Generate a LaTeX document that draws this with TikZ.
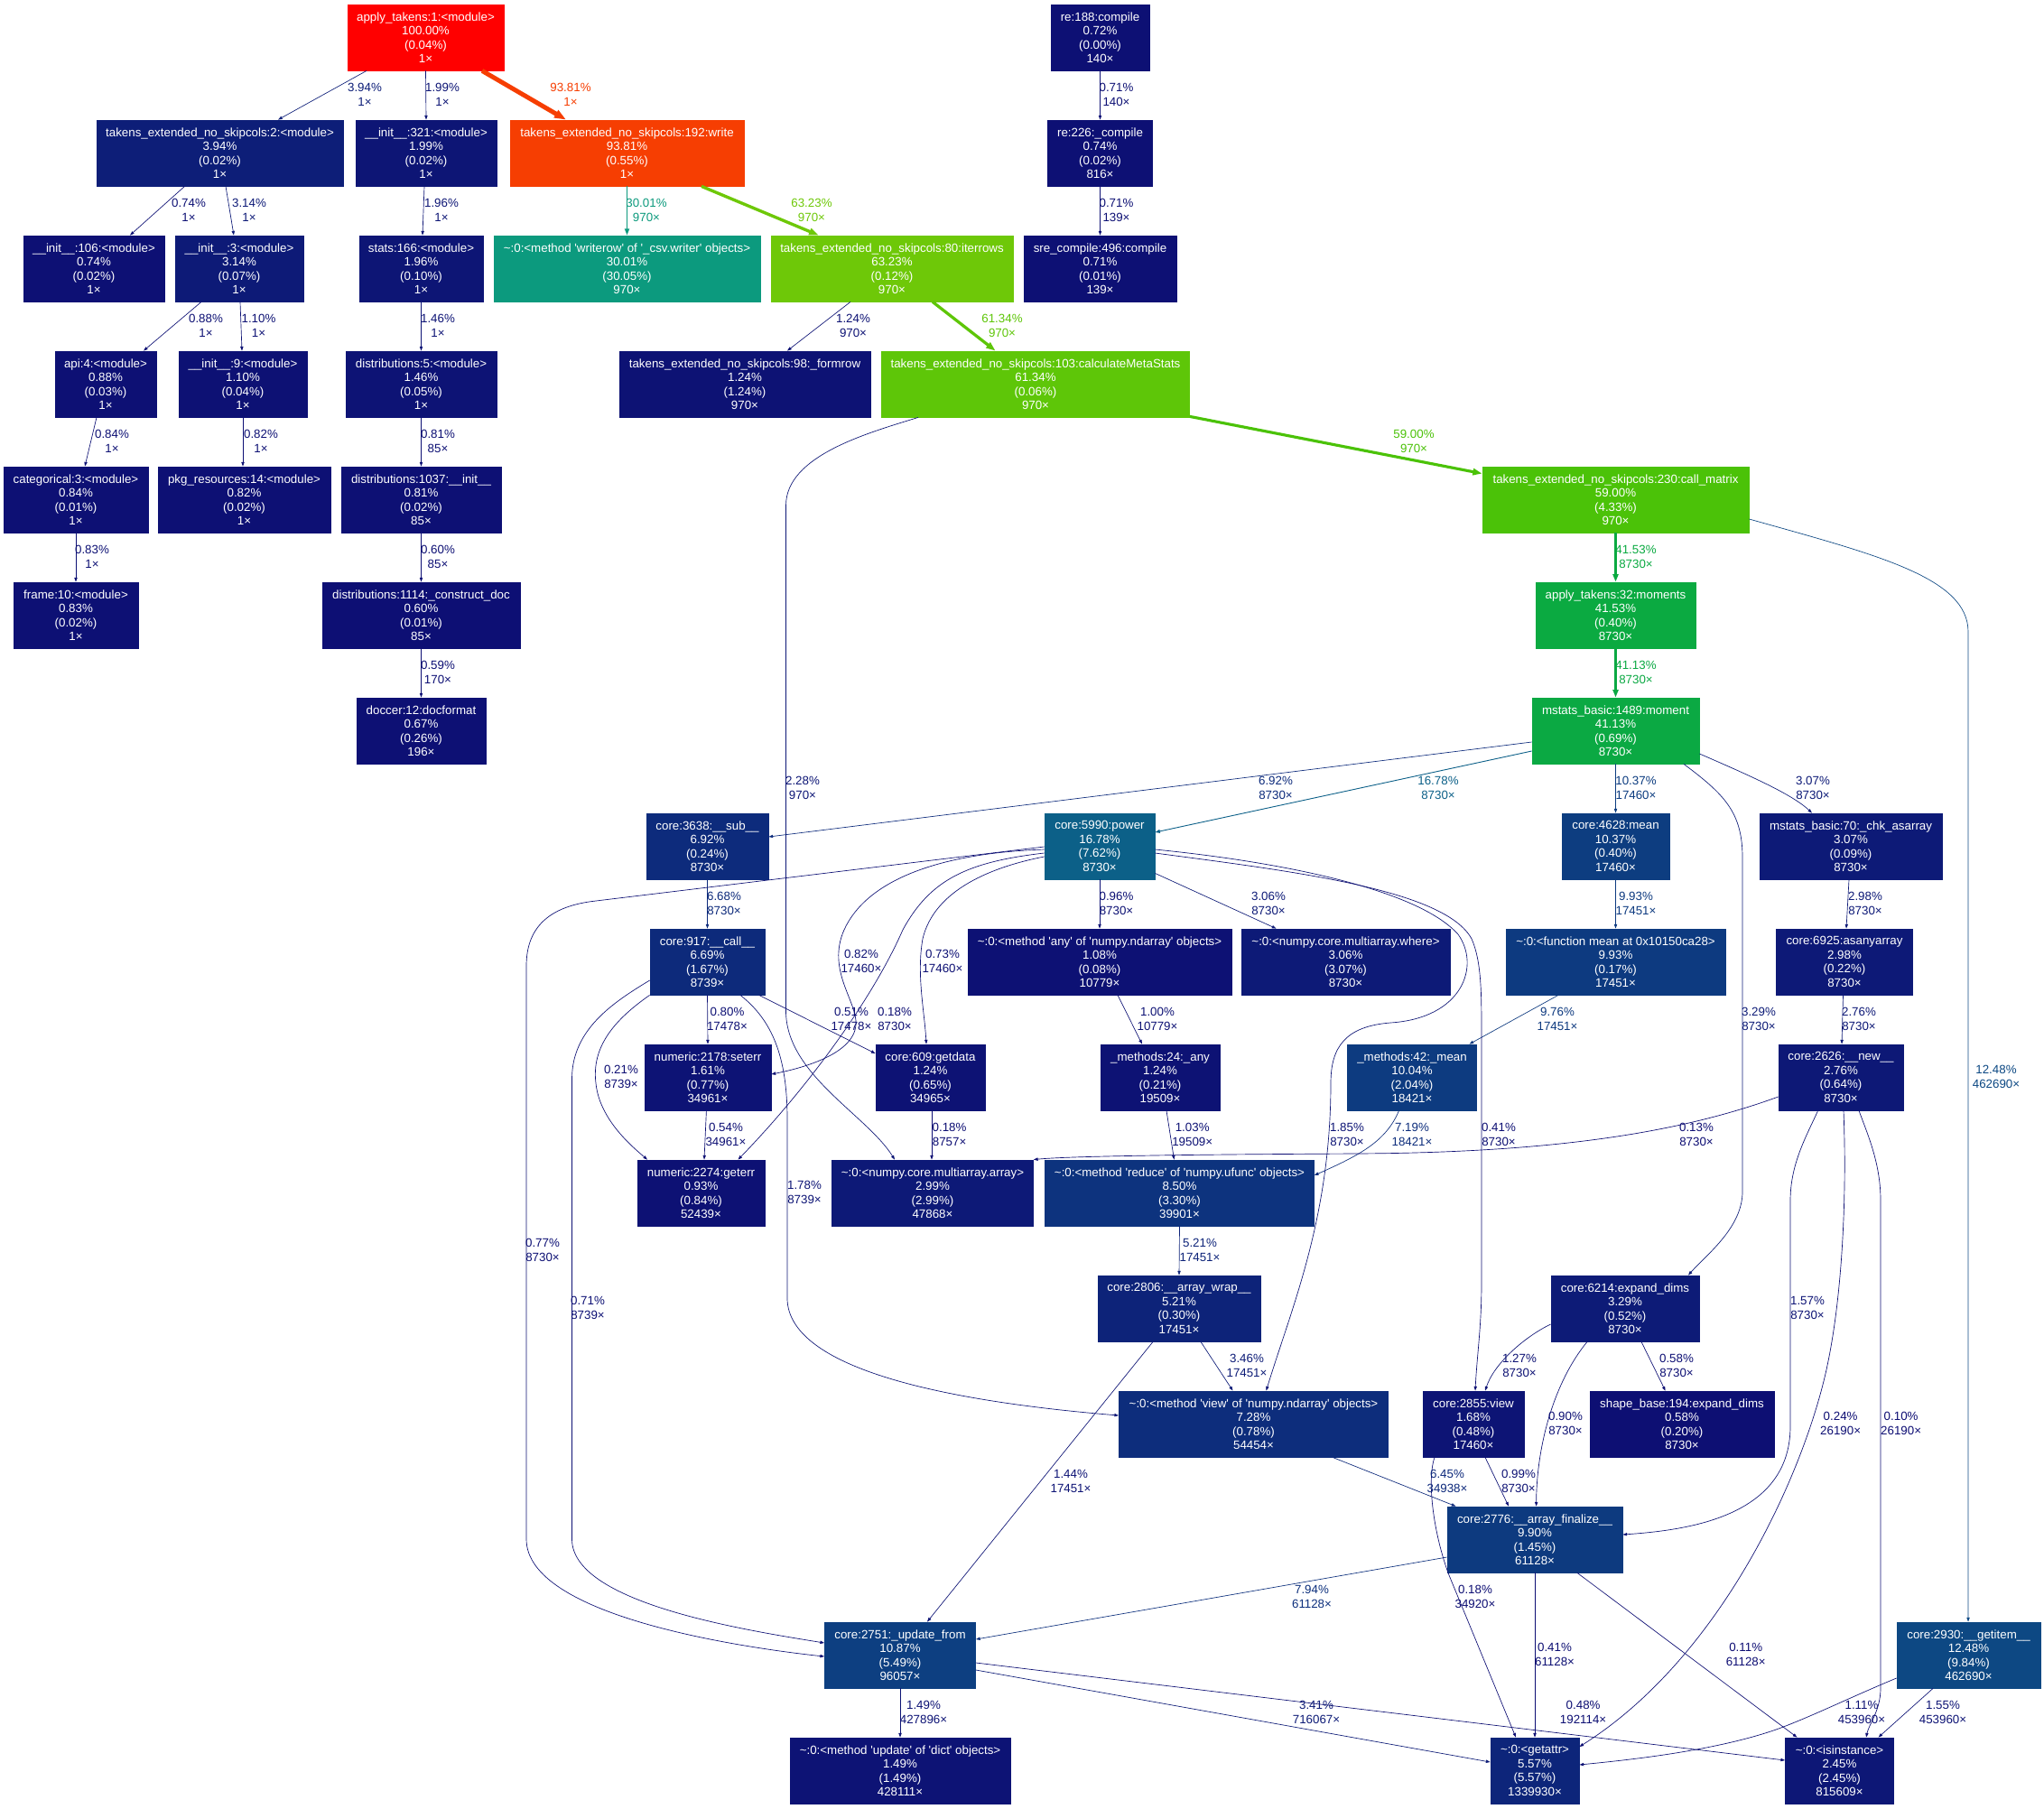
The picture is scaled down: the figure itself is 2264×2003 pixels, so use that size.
\documentclass[tikz,border=0pt]{standalone}
\usepackage{fontspec}
\setmainfont{Liberation Sans}[Ligatures=TeXOff]
\usetikzlibrary{arrows.meta}
\newcommand\gpf{\fontsize{13.33pt}{15.5pt}\selectfont}
\newcommand\gphue[1]{%
  \pgfmathsetmacro\gpx{#1}%
  \pgfmathsetmacro\gpx{\gpx>1 ? \gpx-1 : \gpx}%
  \pgfmathsetmacro\gpres{min(1,max(0,\gpx<1/6 ? \gpma+(\gpmb-\gpma)*6*\gpx : (\gpx<0.5 ? \gpmb : (\gpx<2/3 ? \gpma+(\gpmb-\gpma)*(2/3-\gpx)*6 : \gpma))))}%
}
\newcommand\gpcolor[1]{%
  \pgfmathsetmacro\gpw{#1/100}%
  \pgfmathsetmacro\gph{(2/3)*(1-\gpw)}%
  \pgfmathsetmacro\gps{0.8+0.2*\gpw}%
  \pgfmathsetmacro\gpl{0.25+0.25*\gpw}%
  \pgfmathsetmacro\gpmb{\gpl*(1+\gps)}%
  \pgfmathsetmacro\gpma{2*\gpl-\gpmb}%
  \gphue{\gph+1/3}\let\gpr\gpres
  \gphue{\gph}\let\gpg\gpres
  \gphue{\gph+2/3}\let\gpb\gpres
  \definecolor{gptmp}{rgb}{\gpr,\gpg,\gpb}%
}
\tikzset{
  gbox/.style={rectangle, minimum height=73pt, inner xsep=2pt, inner ysep=2pt, align=center, font=\gpf, text=white, line width=0.8pt},
  gpnode/.code={\gpcolor{#1}\pgfkeysalso{fill=gptmp,draw=gptmp}},
  gplab/.code={\gpcolor{#1}\pgfkeysalso{text=gptmp,align=center,font=\gpf,inner sep=0pt}},
  gpedge/.code={%
    \gpcolor{#1}%
    \pgfmathsetmacro\gplw{max(5.333*#1/100,0.667)}%
    \pgfmathsetmacro\gpal{6.667*sqrt(max(4*#1/100,0.5))}%
    \pgfmathsetmacro\gpaw{0.7*\gpal}%
    \edef\gptmpkeys{draw=gptmp,line width=\gplw pt,-{Triangle[length=\gpal pt,width=\gpaw pt]}}%
    \expandafter\pgfkeysalso\expandafter{\gptmpkeys}%
  }
}
\begin{document}
\begin{tikzpicture}[x=1pt,y=-1pt]
\fill[white] (0,0) rectangle (2264,2003);
\useasboundingbox (0,0) rectangle (2264,2003);
% ---------- nodes ----------
\node[gbox,gpnode=100,minimum width=173pt] (apply1) at (471.5,41.5) {apply\_takens:1:<module>\\100.00\%\\(0.04\%)\\1×};
\node[gbox,gpnode=3.94,minimum width=273pt] (tec2) at (243.5,169.5) {takens\_extended\_no\_skipcols:2:<module>\\3.94\%\\(0.02\%)\\1×};
\node[gbox,gpnode=1.99,minimum width=156pt] (init321) at (472,169.5) {\_\_init\_\_:321:<module>\\1.99\%\\(0.02\%)\\1×};
\node[gbox,gpnode=93.81,minimum width=259pt] (write) at (694.5,169.5) {takens\_extended\_no\_skipcols:192:write\\93.81\%\\(0.55\%)\\1×};
\node[gbox,gpnode=0.72,minimum width=109pt] (re188) at (1218.5,41.5) {re:188:compile\\0.72\%\\(0.00\%)\\140×};
\node[gbox,gpnode=0.74,minimum width=116pt] (re226) at (1218.5,169.5) {re:226:\_compile\\0.74\%\\(0.02\%)\\816×};
\node[gbox,gpnode=0.71,minimum width=169pt] (sre) at (1218.5,297.5) {sre\_compile:496:compile\\0.71\%\\(0.01\%)\\139×};
\node[gbox,gpnode=0.74,minimum width=156pt] (init106) at (104,297.5) {\_\_init\_\_:106:<module>\\0.74\%\\(0.02\%)\\1×};
\node[gbox,gpnode=3.14,minimum width=142pt] (init3) at (265,297.5) {\_\_init\_\_:3:<module>\\3.14\%\\(0.07\%)\\1×};
\node[gbox,gpnode=1.96,minimum width=137pt] (stats166) at (466.5,297.5) {stats:166:<module>\\1.96\%\\(0.10\%)\\1×};
\node[gbox,gpnode=30.01,minimum width=295pt] (writerow) at (694.5,297.5) {\textasciitilde:0:<method 'writerow' of '\_csv.writer' objects>\\30.01\%\\(30.05\%)\\970×};
\node[gbox,gpnode=63.23,minimum width=268pt] (iterrows) at (988,297.5) {takens\_extended\_no\_skipcols:80:iterrows\\63.23\%\\(0.12\%)\\970×};
\node[gbox,gpnode=0.88,minimum width=112pt] (api4) at (117,425.5) {api:4:<module>\\0.88\%\\(0.03\%)\\1×};
\node[gbox,gpnode=1.10,minimum width=142pt] (init9) at (269,425.5) {\_\_init\_\_:9:<module>\\1.10\%\\(0.04\%)\\1×};
\node[gbox,gpnode=1.46,minimum width=167pt] (dist5) at (466.5,425.5) {distributions:5:<module>\\1.46\%\\(0.05\%)\\1×};
\node[gbox,gpnode=1.24,minimum width=278pt] (formrow) at (825,425.5) {takens\_extended\_no\_skipcols:98:\_formrow\\1.24\%\\(1.24\%)\\970×};
\node[gbox,gpnode=61.34,minimum width=341pt] (calcmeta) at (1147,425.5) {takens\_extended\_no\_skipcols:103:calculateMetaStats\\61.34\%\\(0.06\%)\\970×};
\node[gbox,gpnode=0.84,minimum width=160pt] (categorical) at (84,553.5) {categorical:3:<module>\\0.84\%\\(0.01\%)\\1×};
\node[gbox,gpnode=0.82,minimum width=191pt] (pkg) at (270.5,553.5) {pkg\_resources:14:<module>\\0.82\%\\(0.02\%)\\1×};
\node[gbox,gpnode=0.81,minimum width=177pt] (dist1037) at (466.5,553.5) {distributions:1037:\_\_init\_\_\\0.81\%\\(0.02\%)\\85×};
\node[gbox,gpnode=59.00,minimum width=295pt] (callmatrix) at (1789.5,553.5) {takens\_extended\_no\_skipcols:230:call\_matrix\\59.00\%\\(4.33\%)\\970×};
\node[gbox,gpnode=0.83,minimum width=138pt] (frame) at (84,681.5) {frame:10:<module>\\0.83\%\\(0.02\%)\\1×};
\node[gbox,gpnode=0.60,minimum width=219pt] (dist1114) at (466.5,681.5) {distributions:1114:\_construct\_doc\\0.60\%\\(0.01\%)\\85×};
\node[gbox,gpnode=41.53,minimum width=177pt] (moments) at (1789.5,681.5) {apply\_takens:32:moments\\41.53\%\\(0.40\%)\\8730×};
\node[gbox,gpnode=0.67,minimum width=143pt] (doccer) at (466.5,809.5) {doccer:12:docformat\\0.67\%\\(0.26\%)\\196×};
\node[gbox,gpnode=41.13,minimum width=185pt] (moment) at (1789.5,809.5) {mstats\_basic:1489:moment\\41.13\%\\(0.69\%)\\8730×};
\node[gbox,gpnode=6.92,minimum width=135pt] (sub) at (783.5,937.5) {core:3638:\_\_sub\_\_\\6.92\%\\(0.24\%)\\8730×};
\node[gbox,gpnode=16.78,minimum width=122pt] (power) at (1218,937.5) {core:5990:power\\16.78\%\\(7.62\%)\\8730×};
\node[gbox,gpnode=10.37,minimum width=119pt] (mean) at (1789.5,937.5) {core:4628:mean\\10.37\%\\(0.40\%)\\17460×};
\node[gbox,gpnode=3.07,minimum width=202pt] (chk) at (2050,937.5) {mstats\_basic:70:\_chk\_asarray\\3.07\%\\(0.09\%)\\8730×};
\node[gbox,gpnode=6.69,minimum width=127pt] (call) at (783.5,1065.5) {core:917:\_\_call\_\_\\6.69\%\\(1.67\%)\\8739×};
\node[gbox,gpnode=1.08,minimum width=292pt] (any) at (1218,1065.5) {\textasciitilde:0:<method 'any' of 'numpy.ndarray' objects>\\1.08\%\\(0.08\%)\\10779×};
\node[gbox,gpnode=3.06,minimum width=231pt] (where) at (1490.5,1065.5) {\textasciitilde:0:<numpy.core.multiarray.where>\\3.06\%\\(3.07\%)\\8730×};
\node[gbox,gpnode=9.93,minimum width=243pt] (funcmean) at (1789.5,1065.5) {\textasciitilde:0:<function mean at 0x10150ca28>\\9.93\%\\(0.17\%)\\17451×};
\node[gbox,gpnode=2.98,minimum width=151pt] (asany) at (2043,1065.5) {core:6925:asanyarray\\2.98\%\\(0.22\%)\\8730×};
\node[gbox,gpnode=1.61,minimum width=140pt] (seterr) at (784,1193.5) {numeric:2178:seterr\\1.61\%\\(0.77\%)\\34961×};
\node[gbox,gpnode=1.24,minimum width=121pt] (getdata) at (1030.5,1193.5) {core:609:getdata\\1.24\%\\(0.65\%)\\34965×};
\node[gbox,gpnode=1.24,minimum width=132pt] (anyy) at (1285,1193.5) {\_methods:24:\_any\\1.24\%\\(0.21\%)\\19509×};
\node[gbox,gpnode=10.04,minimum width=143pt] (mean42) at (1564,1193.5) {\_methods:42:\_mean\\10.04\%\\(2.04\%)\\18421×};
\node[gbox,gpnode=2.76,minimum width=138pt] (new) at (2039,1193.5) {core:2626:\_\_new\_\_\\2.76\%\\(0.64\%)\\8730×};
\node[gbox,gpnode=0.93,minimum width=141pt] (geterr) at (776.5,1321.5) {numeric:2274:geterr\\0.93\%\\(0.84\%)\\52439×};
\node[gbox,gpnode=2.99,minimum width=223pt] (array) at (1033,1321.5) {\textasciitilde:0:<numpy.core.multiarray.array>\\2.99\%\\(2.99\%)\\47868×};
\node[gbox,gpnode=8.50,minimum width=298pt] (reduce) at (1306.5,1321.5) {\textasciitilde:0:<method 'reduce' of 'numpy.ufunc' objects>\\8.50\%\\(3.30\%)\\39901×};
\node[gbox,gpnode=5.21,minimum width=180pt] (wrap) at (1306,1449.5) {core:2806:\_\_array\_wrap\_\_\\5.21\%\\(0.30\%)\\17451×};
\node[gbox,gpnode=3.29,minimum width=164pt] (expand) at (1800,1449.5) {core:6214:expand\_dims\\3.29\%\\(0.52\%)\\8730×};
\node[gbox,gpnode=7.28,minimum width=298pt] (viewnp) at (1388.5,1577.5) {\textasciitilde:0:<method 'view' of 'numpy.ndarray' objects>\\7.28\%\\(0.78\%)\\54454×};
\node[gbox,gpnode=1.68,minimum width=112pt] (view2855) at (1632,1577.5) {core:2855:view\\1.68\%\\(0.48\%)\\17460×};
\node[gbox,gpnode=0.58,minimum width=204pt] (shapebase) at (1863,1577.5) {shape\_base:194:expand\_dims\\0.58\%\\(0.20\%)\\8730×};
\node[gbox,gpnode=9.90,minimum width=194pt] (finalize) at (1700,1705.5) {core:2776:\_\_array\_finalize\_\_\\9.90\%\\(1.45\%)\\61128×};
\node[gbox,gpnode=10.87,minimum width=167pt] (updatefrom) at (997,1833.5) {core:2751:\_update\_from\\10.87\%\\(5.49\%)\\96057×};
\node[gbox,gpnode=12.48,minimum width=159pt] (getitem) at (2180.5,1833.5) {core:2930:\_\_getitem\_\_\\12.48\%\\(9.84\%)\\462690×};
\node[gbox,gpnode=1.49,minimum width=244pt] (updatedict) at (997,1961.5) {\textasciitilde:0:<method 'update' of 'dict' objects>\\1.49\%\\(1.49\%)\\428111×};
\node[gbox,gpnode=5.57,minimum width=98pt] (getattr) at (1700,1961.5) {\textasciitilde:0:<getattr>\\5.57\%\\(5.57\%)\\1339930×};
\node[gbox,gpnode=2.45,minimum width=120pt] (isinstance) at (2037.5,1961.5) {\textasciitilde:0:<isinstance>\\2.45\%\\(2.45\%)\\815609×};
% ---------- edges ----------
\draw[gpedge=3.94] ([xshift=-65.5pt]apply1.south) -- ([xshift=64.5pt]tec2.north);
\draw[gpedge=1.99] (apply1.south) -- (init321.north);
\draw[gpedge=93.81] ([xshift=62.5pt]apply1.south) -- ([xshift=-67.5pt]write.north);
\draw[gpedge=0.74] ([xshift=-39pt]tec2.south) -- ([xshift=40pt]init106.north);
\draw[gpedge=3.14] ([xshift=6.5pt]tec2.south) -- ([xshift=-6pt]init3.north);
\draw[gpedge=1.96] ([xshift=-2pt]init321.south) -- ([xshift=1.5pt]stats166.north);
\draw[gpedge=30.01] (write.south) -- (writerow.north);
\draw[gpedge=63.23] ([xshift=82.5pt]write.south) -- ([xshift=-81.3pt]iterrows.north);
\draw[gpedge=0.88] ([xshift=-42pt]init3.south) -- ([xshift=42pt]api4.north);
\draw[gpedge=1.10] ([xshift=1pt]init3.south) -- ([xshift=-1pt]init9.north);
\draw[gpedge=1.46] (stats166.south) -- (dist5.north);
\draw[gpedge=1.24] ([xshift=-46pt]iterrows.south) -- ([xshift=47pt]formrow.north);
\draw[gpedge=61.34] ([xshift=45pt]iterrows.south) -- ([xshift=-44.4pt]calcmeta.north);
\draw[gpedge=0.71] (re188.south) -- (re226.north);
\draw[gpedge=0.71] (re226.south) -- (sre.north);
\draw[gpedge=0.84] ([xshift=-10pt]api4.south) -- ([xshift=10pt]categorical.north);
\draw[gpedge=0.82] (init9.south) -- ([xshift=-1.5pt]pkg.north);
\draw[gpedge=0.81] (dist5.south) -- (dist1037.north);
\draw[gpedge=0.83] (categorical.south) -- (frame.north);
\draw[gpedge=0.60] (dist1037.south) -- (dist1114.north);
\draw[gpedge=0.59] (dist1114.south) -- (doccer.north);
\draw[gpedge=59.00] ([yshift=1pt]calcmeta.south east) -- ([yshift=-8pt]callmatrix.north west);
\draw[gpedge=2.28] ([xshift=-130pt]calcmeta.south) .. controls (960,480) and (870.5,505) .. (870.5,560) -- (870.5,1120) .. controls (870.5,1190) and (960,1235) .. ([xshift=-42pt]array.north);
\draw[gpedge=41.53] (callmatrix.south) -- (moments.north);
\draw[gpedge=41.13] (moments.south) -- (moment.north);
\draw[gpedge=12.48] ([yshift=-21.5pt]callmatrix.east) .. controls (2080,615) and (2180,640) .. (2180,700) -- ([xshift=-0.5pt]getitem.north);
\draw[gpedge=6.92] ([yshift=-12.5pt]moment.west) -- ([yshift=10.5pt]sub.east);
\draw[gpedge=16.78] ([yshift=-22.5pt]moment.west) -- ([yshift=15.5pt]power.east);
\draw[gpedge=10.37] (moment.south) -- (mean.north);
\draw[gpedge=3.29] ([xshift=75.5pt]moment.south) .. controls (1910,880) and (1930,900) .. (1930,950) -- (1930,1320) .. controls (1930,1360) and (1890,1390) .. ([xshift=70pt]expand.north);
\draw[gpedge=3.07] ([yshift=-25.5pt]moment.east) .. controls (1940,860) and (1985,880) .. ([xshift=-43pt]chk.north);
\draw[gpedge=2.98] ([xshift=-2pt]chk.south) -- ([xshift=2pt]asany.north);
\draw[gpedge=9.93] (mean.south) -- (funcmean.north);
\draw[gpedge=2.76] ([xshift=-1.5pt]asany.south) -- ([xshift=1pt]new.north);
\draw[gpedge=9.76] ([xshift=-63.5pt]funcmean.south) -- ([xshift=63.5pt]mean42.north);
\draw[gpedge=6.68] (sub.south) -- (call.north);
\draw[gpedge=0.96] (power.south) -- (any.north);
\draw[gpedge=3.06] ([yshift=7pt]power.south east) -- ([xshift=-77pt]where.north);
\draw[gpedge=0.82] ([yshift=-3.5pt]power.west) .. controls (1040,945) and (960,975) .. (935,1030) .. controls (915,1075) and (950,1110) .. (948,1135) .. controls (946,1170) and (880,1185) .. ([yshift=3.5pt]seterr.east);
\draw[gpedge=0.18] ([yshift=-7.5pt]power.west) .. controls (1070,955) and (1030,975) .. (1000,1030) .. controls (965,1110) and (890,1210) .. ([xshift=41pt]geterr.north);
\draw[gpedge=0.73] ([yshift=-11.5pt]power.west) .. controls (1100,960) and (1035,985) .. (1022,1040) .. controls (1015,1080) and (1024,1120) .. ([xshift=-4.5pt]getdata.north);
\draw[gpedge=0.77] ([yshift=-0.5pt]power.west) -- (660,998) .. controls (605,1004) and (583,1030) .. (583,1070) -- (583,1705) .. controls (583,1790) and (820,1825) .. ([yshift=-1.5pt]updatefrom.west);
\draw[gpedge=0.71] ([yshift=-20.5pt]call.west) .. controls (680,1110) and (633.5,1140) .. (633.5,1195) -- (633.5,1705) .. controls (633.5,1775) and (820,1805) .. ([yshift=13.5pt]updatefrom.west);
\draw[gpedge=0.21] (call.south west) .. controls (680,1130) and (655,1160) .. (660,1200) .. controls (664,1240) and (700,1270) .. ([xshift=-59.5pt]geterr.north);
\draw[gpedge=0.51] ([xshift=57.2pt]call.south) -- ([yshift=26.5pt]getdata.west);
\draw[gpedge=0.80] (call.south) -- (seterr.north);
\draw[gpedge=1.78] ([xshift=36.5pt]call.south) .. controls (855,1130) and (872,1170) .. (872,1240) -- (872,1440) .. controls (875,1510) and (1020,1550) .. ([yshift=9.5pt]viewnp.west);
\draw[gpedge=0.54] ([xshift=-1.6pt]seterr.south) -- ([xshift=3.5pt]geterr.north);
\draw[gpedge=0.18] ([xshift=1.5pt]getdata.south) -- ([xshift=-1pt]array.north);
\draw[gpedge=1.00] ([xshift=20pt]any.south) -- ([xshift=-20pt]anyy.north);
\draw[gpedge=1.03] ([xshift=7pt]anyy.south) -- ([xshift=-6pt]reduce.north);
\draw[gpedge=7.19] ([xshift=-14.5pt]mean42.south) .. controls (1535,1265) and (1505,1280) .. ([yshift=19.5pt]reduce.east);
\draw[gpedge=0.13] ([yshift=-21.5pt]new.west) .. controls (1860,1255) and (1720,1277) .. (1500,1278) .. controls (1300,1279) and (1180,1281) .. (array.north east);
\draw[gpedge=1.85] ([yshift=-3.5pt]power.east) .. controls (1420,955) and (1570,985) .. (1615,1035) .. controls (1640,1070) and (1620,1128) .. (1540,1133) .. controls (1490,1137) and (1474,1160) .. (1474,1200) .. controls (1474,1350) and (1430,1450) .. ([xshift=14pt]viewnp.north);
\draw[gpedge=0.41] ([yshift=-7.5pt]power.east) .. controls (1430,965) and (1600,985) .. (1630,1040) .. controls (1641,1065) and (1641,1100) .. (1641,1150) -- (1641,1420) .. controls (1641,1470) and (1636,1500) .. ([xshift=2pt]view2855.north);
\draw[gpedge=5.21] (reduce.south) -- (wrap.north);
\draw[gpedge=3.46] ([xshift=24pt]wrap.south) -- ([xshift=-23pt]viewnp.north);
\draw[gpedge=1.44] ([xshift=-29pt]wrap.south) -- ([xshift=30pt]updatefrom.north);
\draw[gpedge=6.45] ([xshift=87.5pt]viewnp.south) -- ([xshift=-87.5pt]finalize.north);
\draw[gpedge=0.18] ([xshift=-43pt]view2855.south) .. controls (1580,1640) and (1588,1700) .. (1605,1745) -- ([xshift=-21pt]getattr.north);
\draw[gpedge=1.27] ([yshift=-17.5pt]expand.west) .. controls (1690,1480) and (1655,1510) .. ([xshift=13pt]view2855.north);
\draw[gpedge=0.58] ([xshift=18pt]expand.south) -- ([xshift=-18.4pt]shapebase.north);
\draw[gpedge=0.90] ([xshift=-42pt]expand.south) .. controls (1722,1530) and (1702,1600) .. ([xshift=1.6pt]finalize.north);
\draw[gpedge=0.99] ([xshift=13pt]view2855.south) -- ([xshift=-29pt]finalize.north);
\draw[gpedge=7.94] ([yshift=-19.5pt]finalize.west) -- ([yshift=17.5pt]updatefrom.east);
\draw[gpedge=0.41] (finalize.south) -- (getattr.north);
\draw[gpedge=0.11] ([xshift=47pt]finalize.south) -- ([xshift=-47pt]isinstance.north);
\draw[gpedge=1.57] ([xshift=-25.4pt]new.south) .. controls (2000,1260) and (1983,1290) .. (1983,1330) -- (1983,1580) .. controls (1983,1680) and (1870,1695) .. ([yshift=5.5pt]finalize.east);
\draw[gpedge=0.24] ([xshift=3pt]new.south) .. controls (2046,1330) and (2040,1450) .. (2020,1530) .. controls (1990,1650) and (1900,1840) .. ([yshift=26.5pt]getattr.east);
\draw[gpedge=0.10] ([xshift=20pt]new.south) .. controls (2070,1260) and (2083,1290) .. (2083,1330) -- (2083,1870) .. controls (2083,1895) and (2070,1910) .. ([xshift=29.5pt]isinstance.north);
\draw[gpedge=1.11] ([yshift=-25.5pt]getitem.west) .. controls (2050,1880) and (2010,1900) .. (1970,1915) .. controls (1900,1940) and (1800,1950) .. ([yshift=6.5pt]getattr.east);
\draw[gpedge=1.55] ([xshift=-39.5pt]getitem.south) -- ([xshift=43pt]isinstance.north);
\draw[gpedge=1.49] (updatefrom.south) -- (updatedict.north);
\draw[gpedge=3.41] ([yshift=-16.5pt]updatefrom.east) -- ([yshift=9.5pt]getattr.west);
\draw[gpedge=0.48] ([yshift=-8.5pt]updatefrom.east) -- ([yshift=11.5pt]isinstance.west);
% ---------- edge labels ----------
\node[gplab=3.94] (l1) at (404,105) {3.94\%\\1×};
\node[gplab=1.99] (l2) at (490,105) {1.99\%\\1×};
\node[gplab=93.81] (l3) at (632,105) {93.81\%\\1×};
\node[gplab=0.74] (l4) at (209,233) {0.74\%\\1×};
\node[gplab=3.14] (l5) at (276,233) {3.14\%\\1×};
\node[gplab=1.96] (l6) at (489,233) {1.96\%\\1×};
\node[gplab=30.01] (l7) at (716,233) {30.01\%\\970×};
\node[gplab=63.23] (l8) at (899,233) {63.23\%\\970×};
\node[gplab=0.88] (l9) at (228,361) {0.88\%\\1×};
\node[gplab=1.10] (l10) at (286.5,361) {1.10\%\\1×};
\node[gplab=1.46] (l11) at (485,361) {1.46\%\\1×};
\node[gplab=1.24] (l12) at (945,361) {1.24\%\\970×};
\node[gplab=61.34] (l13) at (1110,361) {61.34\%\\970×};
\node[gplab=0.71] (l14) at (1236.5,105) {0.71\%\\140×};
\node[gplab=0.71] (l15) at (1236.5,233) {0.71\%\\139×};
\node[gplab=0.84] (l16) at (124,489) {0.84\%\\1×};
\node[gplab=0.82] (l17) at (289,489) {0.82\%\\1×};
\node[gplab=0.81] (l18) at (485,489) {0.81\%\\85×};
\node[gplab=0.83] (l19) at (102,617) {0.83\%\\1×};
\node[gplab=0.60] (l20) at (485,617) {0.60\%\\85×};
\node[gplab=0.59] (l21) at (485,745) {0.59\%\\170×};
\node[gplab=59.00] (l22) at (1566,489) {59.00\%\\970×};
\node[gplab=2.28] (l23) at (889,873) {2.28\%\\970×};
\node[gplab=41.53] (l24) at (1812,617) {41.53\%\\8730×};
\node[gplab=41.13] (l25) at (1812,745) {41.13\%\\8730×};
\node[gplab=12.48] (l26) at (2211,1193) {12.48\%\\462690×};
\node[gplab=6.92] (l27) at (1413,873) {6.92\%\\8730×};
\node[gplab=16.78] (l28) at (1593,873) {16.78\%\\8730×};
\node[gplab=10.37] (l29) at (1812,873) {10.37\%\\17460×};
\node[gplab=3.29] (l30) at (1948,1129) {3.29\%\\8730×};
\node[gplab=3.07] (l31) at (2008,873) {3.07\%\\8730×};
\node[gplab=2.98] (l32) at (2066,1001) {2.98\%\\8730×};
\node[gplab=9.93] (l33) at (1812,1001) {9.93\%\\17451×};
\node[gplab=2.76] (l34) at (2059,1129) {2.76\%\\8730×};
\node[gplab=9.76] (l35) at (1725,1129) {9.76\%\\17451×};
\node[gplab=6.68] (l36) at (802,1001) {6.68\%\\8730×};
\node[gplab=0.96] (l37) at (1236.5,1001) {0.96\%\\8730×};
\node[gplab=3.06] (l38) at (1405,1001) {3.06\%\\8730×};
\node[gplab=0.82] (l39) at (954,1065) {0.82\%\\17460×};
\node[gplab=0.18] (l40) at (991,1129) {0.18\%\\8730×};
\node[gplab=0.73] (l41) at (1044,1065) {0.73\%\\17460×};
\node[gplab=0.77] (l42) at (601,1385) {0.77\%\\8730×};
\node[gplab=0.71] (l43) at (651,1449) {0.71\%\\8739×};
\node[gplab=0.21] (l44) at (688,1193) {0.21\%\\8739×};
\node[gplab=0.51] (l45) at (943,1129) {0.51\%\\17478×};
\node[gplab=0.80] (l46) at (805.5,1129) {0.80\%\\17478×};
\node[gplab=1.78] (l47) at (891,1321) {1.78\%\\8739×};
\node[gplab=0.54] (l49) at (804,1257) {0.54\%\\34961×};
\node[gplab=0.18] (l50) at (1051.6,1257) {0.18\%\\8757×};
\node[gplab=1.00] (l51) at (1282,1129) {1.00\%\\10779×};
\node[gplab=1.03] (l52) at (1320.7,1257) {1.03\%\\19509×};
\node[gplab=7.19] (l53) at (1564,1257) {7.19\%\\18421×};
\node[gplab=0.13] (l54) at (1879,1257) {0.13\%\\8730×};
\node[gplab=1.85] (l55) at (1492,1257) {1.85\%\\8730×};
\node[gplab=0.41] (l56) at (1660,1257) {0.41\%\\8730×};
\node[gplab=5.21] (l57) at (1329,1385) {5.21\%\\17451×};
\node[gplab=3.46] (l58) at (1381,1513) {3.46\%\\17451×};
\node[gplab=1.44] (l59) at (1186,1641) {1.44\%\\17451×};
\node[gplab=6.45] (l60) at (1603,1641) {6.45\%\\34938×};
\node[gplab=0.18] (l61) at (1634,1769) {0.18\%\\34920×};
\node[gplab=1.27] (l62) at (1683,1513) {1.27\%\\8730×};
\node[gplab=0.58] (l63) at (1857,1513) {0.58\%\\8730×};
\node[gplab=0.90] (l64) at (1734,1577) {0.90\%\\8730×};
\node[gplab=0.99] (l65) at (1682,1641) {0.99\%\\8730×};
\node[gplab=7.94] (l66) at (1453,1769) {7.94\%\\61128×};
\node[gplab=0.41] (l67) at (1722,1833) {0.41\%\\61128×};
\node[gplab=0.11] (l68) at (1933.7,1833) {0.11\%\\61128×};
\node[gplab=1.57] (l69) at (2002,1449) {1.57\%\\8730×};
\node[gplab=0.24] (l70) at (2038.6,1577) {0.24\%\\26190×};
\node[gplab=0.10] (l71) at (2105.6,1577) {0.10\%\\26190×};
\node[gplab=1.11] (l72) at (2062,1897) {1.11\%\\453960×};
\node[gplab=1.55] (l73) at (2152,1897) {1.55\%\\453960×};
\node[gplab=1.49] (l74) at (1023,1897) {1.49\%\\427896×};
\node[gplab=3.41] (l75) at (1458,1897) {3.41\%\\716067×};
\node[gplab=0.48] (l76) at (1753.6,1897) {0.48\%\\192114×};
\end{tikzpicture}
\end{document}
